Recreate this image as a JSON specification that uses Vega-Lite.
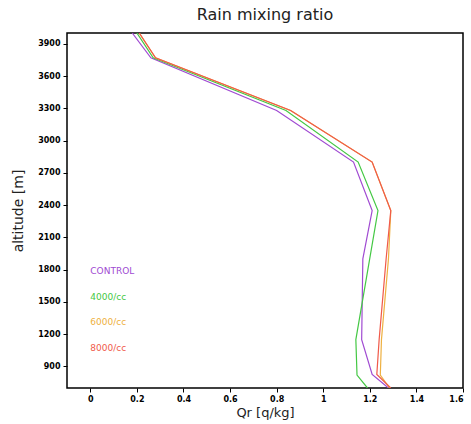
{
  "$schema": "https://vega.github.io/schema/vega-lite/v6.json",
  "width": 396,
  "height": 355,
  "autosize": "none",
  "padding": {"left": 67, "top": 33, "right": 8, "bottom": 36},
  "background": "white",
  "title": {"text": "Rain mixing ratio", "fontSize": 16, "font": "DejaVu Sans", "fontWeight": "normal", "color": "#222", "offset": 10, "anchor": "middle"},
  "config": {
    "view": {"stroke": "black", "strokeWidth": 1.5},
    "axis": {"domain": false, "grid": false, "tickColor": "black", "tickSize": 4, "labelFont": "DejaVu Sans", "labelFontWeight": "bold", "labelFontSize": 8, "labelColor": "black", "titleFont": "DejaVu Sans", "titleFontWeight": "normal", "titleColor": "#222"}
  },
  "datasets": {
    "profiles": [
      {"series": "CONTROL", "alt": 4000, "qr": 0.18},
      {"series": "CONTROL", "alt": 3770, "qr": 0.26},
      {"series": "CONTROL", "alt": 3280, "qr": 0.80},
      {"series": "CONTROL", "alt": 2800, "qr": 1.13},
      {"series": "CONTROL", "alt": 2350, "qr": 1.21},
      {"series": "CONTROL", "alt": 1900, "qr": 1.17},
      {"series": "CONTROL", "alt": 1150, "qr": 1.165},
      {"series": "CONTROL", "alt": 826, "qr": 1.21},
      {"series": "CONTROL", "alt": 700, "qr": 1.28},
      {"series": "4000/cc", "alt": 4000, "qr": 0.20},
      {"series": "4000/cc", "alt": 3770, "qr": 0.27},
      {"series": "4000/cc", "alt": 3280, "qr": 0.84},
      {"series": "4000/cc", "alt": 2800, "qr": 1.15},
      {"series": "4000/cc", "alt": 2350, "qr": 1.235},
      {"series": "4000/cc", "alt": 1150, "qr": 1.14},
      {"series": "4000/cc", "alt": 820, "qr": 1.145},
      {"series": "4000/cc", "alt": 700, "qr": 1.19},
      {"series": "6000/cc", "alt": 4000, "qr": 0.21},
      {"series": "6000/cc", "alt": 3770, "qr": 0.28},
      {"series": "6000/cc", "alt": 3280, "qr": 0.86},
      {"series": "6000/cc", "alt": 2800, "qr": 1.21},
      {"series": "6000/cc", "alt": 2350, "qr": 1.29},
      {"series": "6000/cc", "alt": 1900, "qr": 1.28},
      {"series": "6000/cc", "alt": 1150, "qr": 1.25},
      {"series": "6000/cc", "alt": 820, "qr": 1.245},
      {"series": "6000/cc", "alt": 700, "qr": 1.285},
      {"series": "8000/cc", "alt": 4000, "qr": 0.21},
      {"series": "8000/cc", "alt": 3770, "qr": 0.28},
      {"series": "8000/cc", "alt": 3280, "qr": 0.86},
      {"series": "8000/cc", "alt": 2800, "qr": 1.21},
      {"series": "8000/cc", "alt": 2350, "qr": 1.29},
      {"series": "8000/cc", "alt": 1900, "qr": 1.27},
      {"series": "8000/cc", "alt": 1150, "qr": 1.24},
      {"series": "8000/cc", "alt": 826, "qr": 1.23},
      {"series": "8000/cc", "alt": 700, "qr": 1.29}
    ],
    "labels": [
      {"series": "CONTROL", "alt": 1790, "qr": 0},
      {"series": "4000/cc", "alt": 1548, "qr": 0},
      {"series": "6000/cc", "alt": 1316, "qr": 0},
      {"series": "8000/cc", "alt": 1076, "qr": 0}
    ]
  },
  "encoding": {
    "x": {"field": "qr", "type": "quantitative", "scale": {"domain": [-0.1, 1.6], "nice": false, "zero": false},
          "axis": {"values": [0, 0.2, 0.4, 0.6, 0.8, 1, 1.2, 1.4, 1.6], "format": "~g", "labelOverlap": false, "title": "Qr [q/kg]", "titleFontSize": 13, "titlePadding": 3, "labelPadding": 3}},
    "y": {"field": "alt", "type": "quantitative", "scale": {"domain": [700, 4000], "nice": false, "zero": false},
          "axis": {"values": [900, 1200, 1500, 1800, 2100, 2400, 2700, 3000, 3300, 3600, 3900], "format": "d", "labelOverlap": false, "labelFlush": false, "labelBound": false, "title": "altitude [m]", "titleFontSize": 14, "titlePadding": 12, "labelPadding": 3}},
    "color": {"field": "series", "type": "nominal", "scale": {"domain": ["CONTROL", "4000/cc", "6000/cc", "8000/cc"], "range": ["#a04ad2", "#44c844", "#eeb040", "#f05a4a"]}, "legend": null}
  },
  "layer": [
    {
      "data": {"name": "profiles"},
      "mark": {"type": "line", "strokeWidth": 1.2, "clip": true},
      "encoding": {
        "order": {"field": "alt", "type": "quantitative", "sort": "descending"},
        "detail": {"field": "series"}
      }
    },
    {
      "data": {"name": "labels"},
      "mark": {"type": "text", "align": "left", "baseline": "middle", "fontSize": 9, "font": "DejaVu Sans"},
      "encoding": {
        "text": {"field": "series"}
      }
    }
  ]
}
